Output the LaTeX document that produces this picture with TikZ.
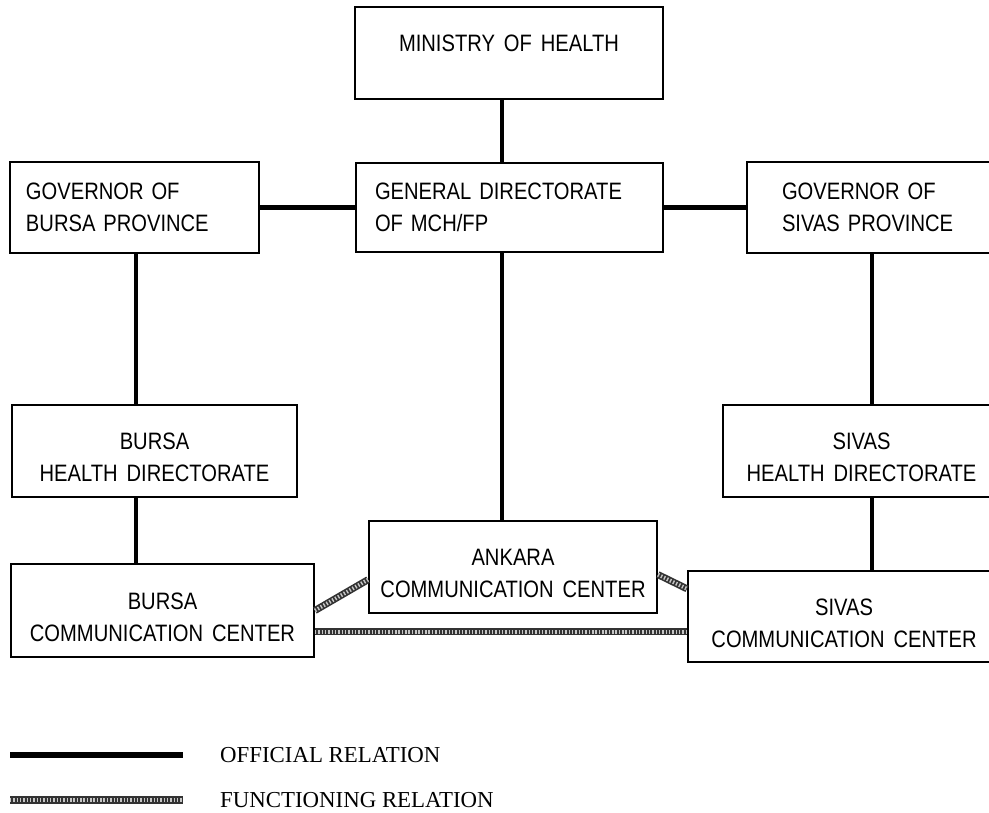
\documentclass[tikz,border=0pt]{standalone}
\usepackage{fontspec}
\setsansfont{Liberation Sans}[FakeStretch=0.85, WordSpace=1.6]
\setmainfont{Liberation Serif}
\usepackage{tikz}
\newcommand{\lowertext}{\rule{0pt}{17pt}}
\newcommand{\raisetext}{\rule[-11pt]{0pt}{11pt}}

\begin{document}
\begin{tikzpicture}[
    box/.style={draw, line width=1.1pt, align=center, inner sep=0pt,
        font=\sffamily\fontsize{13.5}{18.2}\selectfont},
    leftbox/.style={box, align=left},
    offrel/.style={line width=2.6pt},
    funcrel/.style={line width=4pt, draw=black!80,
        postaction={draw=gray!45, line width=2.2pt, dash pattern=on 0.8pt off 1.1pt}},
    legend/.style={font=\rmfamily\fontsize{13}{15}\selectfont, anchor=west}]
    \clip (0,0) rectangle (19.78,16.24);

    % Boxes
    \node[box, minimum width=6.16cm, minimum height=1.84cm] (min) at (10.18,15.18) {MINISTRY OF HEALTH\raisetext};
    \node[leftbox, minimum height=1.78cm, text width=5.38cm, inner xsep=0.38cm] (gd) at (10.19,12.09) {GENERAL DIRECTORATE\\OF MCH/FP};
    \node[leftbox, minimum height=1.82cm, text width=4.34cm, inner xsep=0.32cm] (govb) at (2.69,12.09) {GOVERNOR OF\\BURSA PROVINCE};
    \node[leftbox, minimum height=1.82cm, text width=3.86cm, inner xsep=0.7cm] (govs) at (17.57,12.09) {GOVERNOR OF\\SIVAS PROVINCE};
    \node[box, minimum width=5.70cm, minimum height=1.84cm] (bhd) at (3.09,7.22) {\lowertext BURSA\\HEALTH DIRECTORATE};
    \node[box, minimum width=5.54cm, minimum height=1.84cm] (shd) at (17.23,7.22) {\lowertext SIVAS\\HEALTH DIRECTORATE};
    \node[box, minimum width=6.06cm, minimum height=1.86cm] (bcc) at (3.25,4.03) {\lowertext BURSA\\COMMUNICATION CENTER};
    \node[box, minimum width=5.76cm, minimum height=1.84cm] (ank) at (10.26,4.90) {\lowertext ANKARA\\COMMUNICATION CENTER};
    \node[box, minimum width=6.24cm, minimum height=1.82cm] (scc) at (16.88,3.91) {\lowertext SIVAS\\COMMUNICATION CENTER};

    % Official relations
    \coordinate (lcol) at (2.72,0);
    \coordinate (mcol) at (10.04,0);
    \coordinate (rcol) at (17.44,0);
    \draw[offrel] (min.south -| mcol) -- (gd.north -| mcol);
    \draw[offrel] (govb.east) -- (gd.west);
    \draw[offrel] (gd.east) -- (govs.west);
    \draw[offrel] (govb.south -| lcol) -- (bhd.north -| lcol);
    \draw[offrel] (bhd.south -| lcol) -- (bcc.north -| lcol);
    \draw[offrel] (gd.south -| mcol) -- (ank.north -| mcol);
    \draw[offrel] (govs.south -| rcol) -- (shd.north -| rcol);
    \draw[offrel] (shd.south -| rcol) -- (scc.north -| rcol);

    % Functioning relations
    \draw[funcrel] (bcc.east) -- (ank.185);
    \draw[funcrel] (ank.-3) -- (scc.170);
    \draw[funcrel] (bcc.-8) -- (bcc.-8 -| scc.west);

    % Legend
    \draw[offrel, line width=3pt] (0.2,1.14) -- (3.66,1.14);
    \node[legend] (offtxt) at (4.28,1.14) {OFFICIAL RELATION};
    \draw[funcrel] (0.2,0.24) -- (3.66,0.24);
    \node[legend] (functxt) at (4.28,0.24) {FUNCTIONING RELATION};
\end{tikzpicture}
\end{document}
